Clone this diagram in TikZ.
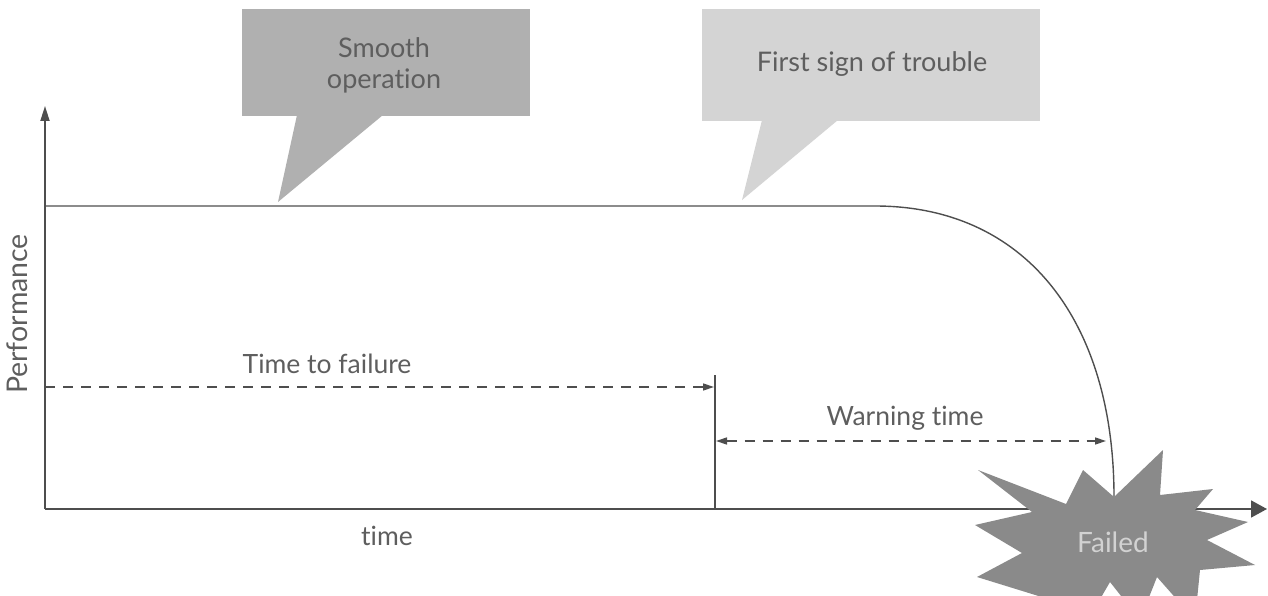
\documentclass[tikz,border=0pt]{standalone}
\usepackage{fontspec}
\setmainfont[Ligatures=NoCommon]{Lato}
\usetikzlibrary{arrows.meta}
\definecolor{ink}{HTML}{4E4E4E}
\definecolor{txt}{HTML}{5E5E5E}
\definecolor{calloutA}{HTML}{B0B0B0}
\definecolor{calloutB}{HTML}{D4D4D4}
\definecolor{burst}{HTML}{8A8A8A}
\definecolor{burstTxt}{HTML}{D2D2D2}
\tikzset{
  axisline/.style={draw=ink, line width=1.8pt},
  perfline/.style={draw=ink, line width=1.4pt},
  dimline/.style={draw=ink, line width=1.4pt, dash pattern=on 10pt off 8pt},
  lbl/.style={text=txt, font=\fontsize{26.5}{30}\selectfont, inner sep=0pt},
  callbox/.style={inner sep=0pt, text=txt, align=center, font=\fontsize{27}{31}\selectfont},
}
\begin{document}
\begin{tikzpicture}[x=1pt,y=-1pt]
\useasboundingbox (0,0) rectangle (1268,596);
\clip (0,0) rectangle (1268,596);

% callouts
\node[fill=calloutA, minimum width=288pt, minimum height=107pt, inner sep=0pt] (smooth) at (386,62.5) {};
\node[callbox] (smoothtxt) at (384,65) {Smooth\\operation};
\coordinate (tipA) at (278,202);
\fill[calloutA] (297,115) -- (tipA) -- (383,115) -- cycle;
\node[fill=calloutB, minimum width=338pt, minimum height=112pt, inner sep=0pt] (trouble) at (871,65) {};
\node[callbox] (troubletxt) at (872,64) {First sign of trouble};
\coordinate (tipB) at (742,200);
\fill[calloutB] (762,120) -- (tipB) -- (838,120) -- cycle;

% axes
\coordinate (O) at (45,509);
\coordinate (ytop) at (45,106);
\coordinate (xend) at (1267,509);
\draw[axisline, -{Triangle[length=15pt,width=9pt]}] (O) -- (ytop);
\draw[axisline, -{Triangle[length=16pt,width=17pt]}] (O) -- (xend);

\node[lbl, rotate=90, font=\fontsize{28.5}{32}\selectfont] (perf) at (17,314) {Performance};
\node[lbl] (time) at (387,536) {time};

% performance curve
\coordinate (p0) at (45,206);
\coordinate (p1) at (875,206);
\coordinate (fail) at (1114,497);
\draw[perfline] (p0) -- (p1) .. controls (1025,206) and (1114,320) .. (fail);

% warning marker
\coordinate (wtop) at (715,375);
\coordinate (wbot) at (715,509);
\draw[axisline, line width=1.6pt] (wbot) -- (wtop);

% time to failure
\coordinate (tf0) at (45,387);
\coordinate (tf1) at (714,387);
\draw[dimline, -{Triangle[length=11pt,width=7pt]}] (tf0) -- (tf1);
\node[lbl] (ttf) at (327,364) {Time to failure};

% warning time
\coordinate (wt0) at (716,441);
\coordinate (wt1) at (1106,441);
\draw[dimline, {Triangle[length=11pt,width=7pt]}-{Triangle[length=11pt,width=7pt]}] (wt0) -- (wt1);
\node[lbl] (wtime) at (905,418) {Warning time};

% starburst
\fill[burst] (978,470) -- (1066,504) -- (1083,470) -- (1114,497) -- (1163,450) -- (1160,495)
  -- (1213,489) -- (1195,510) -- (1248,522) -- (1207,540) -- (1255,565) -- (1200,570)
  -- (1195,620) -- (1157,577) -- (1140,620) -- (1110,582) -- (1085,625) -- (1045,598)
  -- (977,577) -- (1022,553) -- (975,525) -- (1032,512) -- cycle;
\node[text=burstTxt, font=\fontsize{28}{32}\selectfont, inner sep=0pt] (failed) at (1113,542) {Failed};
\end{tikzpicture}
\end{document}
